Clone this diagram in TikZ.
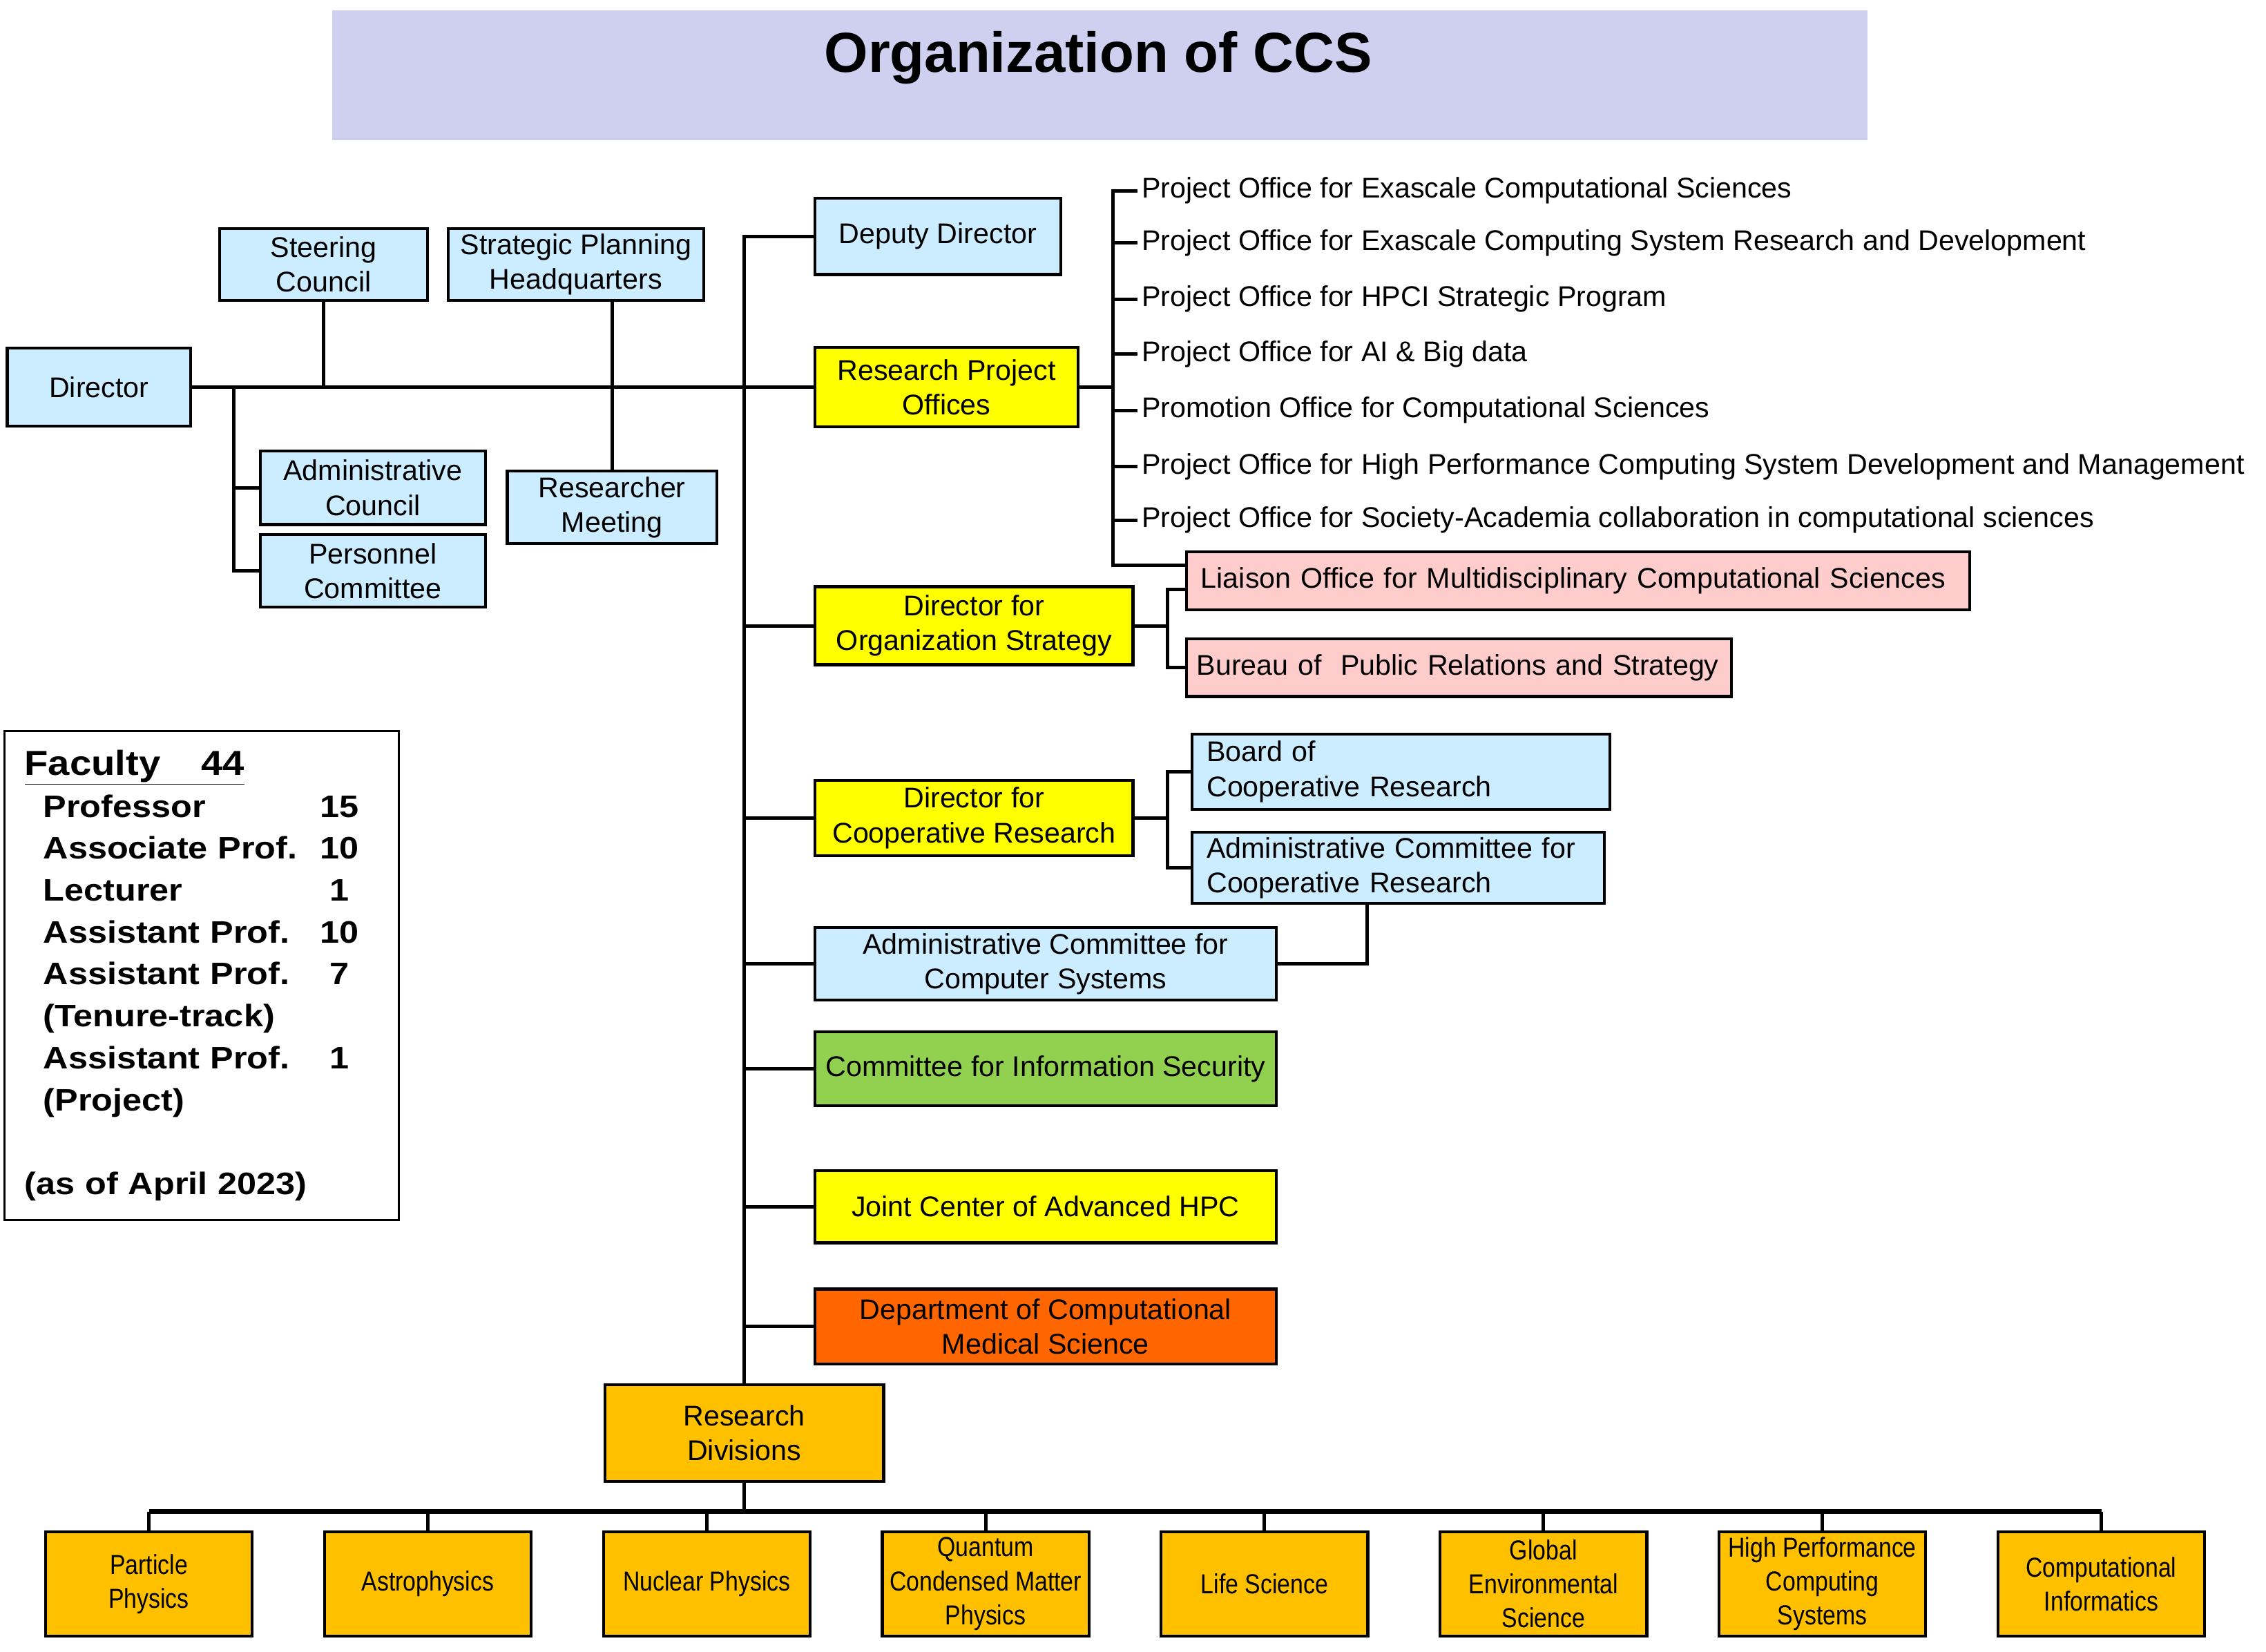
\documentclass[tikz,border=0pt]{standalone}
\usepackage{fontspec}
\setmainfont{Liberation Sans}
\newfontfamily\narrowfont[FakeStretch=0.85]{Liberation Sans}
\newfontfamily\widefont[FakeStretch=1.12]{Liberation Sans}
\definecolor{skyblue}{HTML}{CCECFF}
\definecolor{lemon}{HTML}{FFFF00}
\definecolor{rose}{HTML}{FFCCCC}
\definecolor{leaf}{HTML}{92D050}
\definecolor{tangerine}{HTML}{FF6600}
\definecolor{amber}{HTML}{FFC000}
\definecolor{lavender}{HTML}{CFCFEF}
\newcommand{\facrow}[2]{\hspace*{13pt}\makebox[190pt][l]{#1}\makebox[30pt]{#2}}
\tikzset{
  unit/.style={draw, line width=2pt, inner sep=0pt, align=center, font=\fontsize{19.7}{24}\selectfont},
  leftunit/.style={draw, line width=2pt, inner sep=0pt, inner xsep=10pt, align=left, font=\fontsize{19.7}{24}\selectfont},
  office/.style={anchor=west, inner sep=0pt, inner xsep=3pt, font=\fontsize{19.7}{24}\selectfont},
  division/.style={draw, line width=2pt, fill=amber, inner sep=0pt, align=center, minimum width=143pt, minimum height=72pt, font=\narrowfont\fontsize{19}{23.5}\selectfont},
  link/.style={line width=2.4pt}
}
\begin{document}
\begin{tikzpicture}[x=1pt,y=-1pt]
\useasboundingbox (0,0) rectangle (1568,1143);
% title
\node[fill=lavender, minimum width=1062pt, minimum height=90pt] (title) at (761,52) {};
\node[font=\fontsize{39}{46}\selectfont\bfseries] (titletext) at (760,40) {Organization of CCS};
% director and councils
\node[unit, fill=skyblue, minimum width=127pt, minimum height=54pt] (director) at (68.5,268) {Director};
\node[unit, fill=skyblue, minimum width=144pt, minimum height=50pt] (steering) at (224,183) {Steering\\Council};
\node[unit, fill=skyblue, minimum width=177pt, minimum height=50pt] (strategic) at (398.5,183) {Strategic Planning\\Headquarters};
\node[unit, fill=skyblue, minimum width=156pt, minimum height=51pt] (admincouncil) at (258,337.5) {Administrative\\Council};
\node[unit, fill=skyblue, minimum width=156pt, minimum height=50pt] (personnel) at (258,395) {Personnel\\Committee};
\node[unit, fill=skyblue, minimum width=145pt, minimum height=50pt] (researchers) at (423.5,351) {Researcher\\Meeting};
% boxes on the spine
\node[unit, fill=skyblue, minimum width=170pt, minimum height=53pt] (deputy) at (649,163.5) {Deputy Director};
\node[unit, fill=lemon, minimum width=182pt, minimum height=55pt] (projects) at (655,268) {Research Project\\Offices};
\node[unit, fill=lemon, minimum width=220pt, minimum height=54pt] (strategy) at (674,433) {Director for\\Organization Strategy};
\node[unit, fill=lemon, minimum width=220pt, minimum height=52pt] (cooperative) at (674,566) {Director for\\Cooperative Research};
\node[unit, fill=skyblue, minimum width=319pt, minimum height=50pt] (computers) at (723.5,667) {Administrative Committee for\\Computer Systems};
\node[unit, fill=leaf, minimum width=319pt, minimum height=51pt] (security) at (723.5,739.5) {Committee for Information Security};
\node[unit, fill=lemon, minimum width=319pt, minimum height=50pt] (jointcenter) at (723.5,835) {Joint Center of Advanced HPC};
\node[unit, fill=tangerine, minimum width=319pt, minimum height=52pt] (medical) at (723.5,918) {Department of Computational\\Medical Science};
\node[unit, fill=amber, minimum width=193pt, minimum height=67pt] (divisions) at (515,991.5) {Research\\Divisions};
% project offices
\node[office] (office1) at (787,132) {Project Office for Exascale Computational Sciences};
\node[office] (office2) at (787,168) {Project Office for Exascale Computing System Research and Development};
\node[office] (office3) at (787,207) {Project Office for HPCI Strategic Program};
\node[office] (office4) at (787,245) {Project Office for AI \& Big data};
\node[office] (office5) at (787,284) {Promotion Office for Computational Sciences};
\node[office] (office6) at (787,323) {Project Office for High Performance Computing System Development and Management};
\node[office] (office7) at (787,360) {Project Office for Society-Academia collaboration in computational sciences};
% offices on the right
\node[leftunit, fill=rose, text width=522pt, minimum height=40pt] (liaison) at (1092,402) {Liaison Office for Multidisciplinary Computational Sciences};
\node[leftunit, fill=rose, inner xsep=7pt, text width=363pt, minimum height=40pt] (bureau) at (1009.5,462) {\mbox{Bureau of\ \ Public Relations and Strategy}};
\node[leftunit, fill=skyblue, text width=269pt, minimum height=52pt] (board) at (969.5,534) {Board of\\Cooperative Research};
\node[leftunit, fill=skyblue, text width=265pt, minimum height=49pt] (coopcommittee) at (967.5,600.5) {Administrative Committee for\\Cooperative Research};
% research divisions
\node[division] (particle) at (103,1096) {Particle\\Physics};
\node[division] (astro) at (296,1096) {Astrophysics};
\node[division] (nuclear) at (489,1096) {Nuclear Physics};
\node[division] (quantum) at (682,1096) {Quantum\\Condensed Matter\\Physics};
\node[division] (life) at (875,1096) {Life Science};
\node[division] (global) at (1068,1096) {Global\\Environmental\\Science};
\node[division] (hpcs) at (1261,1096) {High Performance\\Computing\\Systems};
\node[division] (informatics) at (1454,1096) {Computational\\Informatics};
% faculty
\node[draw, line width=1.5pt, inner sep=0pt, inner xsep=14pt, text width=245pt, minimum height=338pt, align=left, font=\widefont\bfseries\fontsize{21.5}{29}\selectfont] (faculty) at (139.5,675)
  {{\fontsize{24}{29}\selectfont\underline{Faculty\hspace{28pt}44}}\\
   \facrow{Professor}{15}\\
   \facrow{Associate Prof.}{10}\\
   \facrow{Lecturer}{1}\\
   \facrow{Assistant Prof.}{10}\\
   \facrow{Assistant Prof.}{7}\\
   \facrow{(Tenure-track)}{}\\
   \facrow{Assistant Prof.}{1}\\
   \facrow{(Project)}{}\\[29pt]
   (as of April 2023)};
% connectors
\coordinate (dirjoint) at (162,268);
\coordinate (officejoint) at (770,391);
\coordinate (strategyjoint) at (808,408);
\coordinate (coopjoint) at (808,566);
\coordinate (computerjoint) at (946,625);
\coordinate (bus) at (515,1046);
\draw[link] (director.east) -- (projects.west);
\draw[link] (steering.south) -- (steering.south |- director.east);
\draw[link] (researchers.north) -- (researchers.north |- strategic.south);
\draw[link] (dirjoint) |- (personnel.west);
\draw[link] (dirjoint |- admincouncil.west) -- (admincouncil.west);
\draw[link] (deputy.west) -| (divisions.north);
\draw[link] (strategy.west) -- (strategy.west -| divisions.north);
\draw[link] (cooperative.west) -- (cooperative.west -| divisions.north);
\draw[link] (computers.west) -- (computers.west -| divisions.north);
\draw[link] (security.west) -- (security.west -| divisions.north);
\draw[link] (jointcenter.west) -- (jointcenter.west -| divisions.north);
\draw[link] (medical.west) -- (medical.west -| divisions.north);
\draw[link] (office1.west) -| (officejoint) -- (officejoint -| liaison.west);
\draw[link] (projects.east) -- (projects.east -| officejoint);
\draw[link] (office2.west) -- (office2.west -| officejoint);
\draw[link] (office3.west) -- (office3.west -| officejoint);
\draw[link] (office4.west) -- (office4.west -| officejoint);
\draw[link] (office5.west) -- (office5.west -| officejoint);
\draw[link] (office6.west) -- (office6.west -| officejoint);
\draw[link] (office7.west) -- (office7.west -| officejoint);
\draw[link] (strategyjoint -| liaison.west) -- (strategyjoint) |- (bureau.west);
\draw[link] (strategy.east) -- (strategy.east -| strategyjoint);
\draw[link] (board.west) -| (coopjoint) |- (coopcommittee.west);
\draw[link] (cooperative.east) -- (coopjoint);
\draw[link] (computers.east) -| (computerjoint);
\draw[link] (divisions.south) -- (bus);
\draw[line width=3.5pt] (particle.north |- bus) -- (informatics.north |- bus);
\draw[link] (particle.north) -- (particle.north |- bus);
\draw[link] (astro.north) -- (astro.north |- bus);
\draw[link] (nuclear.north) -- (nuclear.north |- bus);
\draw[link] (quantum.north) -- (quantum.north |- bus);
\draw[link] (life.north) -- (life.north |- bus);
\draw[link] (global.north) -- (global.north |- bus);
\draw[link] (hpcs.north) -- (hpcs.north |- bus);
\draw[link] (informatics.north) -- (informatics.north |- bus);
\end{tikzpicture}
\end{document}
